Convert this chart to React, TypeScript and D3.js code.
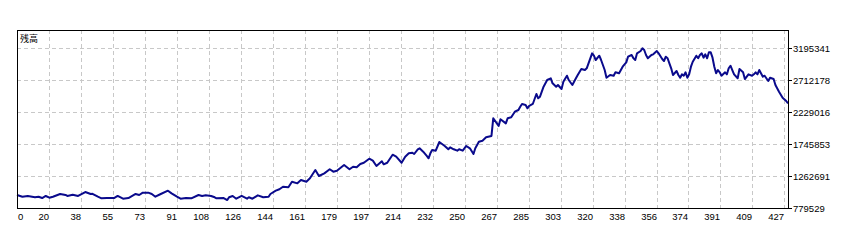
import React from "react";
import * as d3 from "d3";

// ---- data ----
const trade: number[] = [0,3,6,10,12,14,16,18,20,24,27,28,31,34,38,41,42,45,47,50,54,56,59,62,66,68,70,73,75,77,80,84,86,89,91,94,97,101,103,105,108,110,111,115,117,118,120,122,125,128,129,131,134,137,140,141,144,146,148,151,153,156,158,161,163,166,168,171,174,176,178,182,185,187,189,191,193,196,198,200,203,204,206,209,211,214,216,218,220,221,223,224,226,228,229,230,231,233,235,238,240,241,243,245,246,248,250,252,254,255,257,259,261,264,265,267,268,269,272,273,275,277,279,280,281,283,284,285,287,289,290,291,293,295,297,298,300,301,303,304,306,307,309,311,312,314,316,317,318,320,321,322,324,325,327,328,330,332,333,335,337,339,340,342,343,344,345,347,348,349,350,351,353,354,356,357,359,360,361,362,363,364,365,367,368,369,370,371,372,373,374,375,376,378,379,380,381,382,383,384,385,386,387,388,389,390,391,392,394,395,396,397,398,399,401,402,404,405,407,409,410,411,412,413,415,416,418,419,421,422,424,426,428,429];

// balance in thousands
const balanceK: number[] = [976,950,961,941,950,930,961,935,950,991,976,961,980,961,1021,991,993,950,926,930,930,961,920,930,991,976,1011,1011,991,950,991,1041,1001,950,920,930,926,976,961,971,961,941,926,930,900,941,961,920,961,920,941,920,971,941,950,991,1041,1062,1101,1092,1177,1152,1202,1177,1228,1353,1263,1303,1364,1328,1343,1429,1364,1403,1394,1444,1463,1524,1494,1414,1485,1439,1463,1584,1554,1463,1554,1605,1614,1595,1666,1681,1630,1565,1530,1605,1655,1645,1776,1716,1666,1696,1666,1645,1666,1645,1716,1681,1595,1681,1781,1796,1847,1867,2134,2058,2018,2119,2058,2134,2149,2234,2259,2309,2350,2335,2285,2320,2350,2501,2436,2460,2611,2712,2738,2662,2611,2637,2576,2686,2777,2712,2637,2738,2788,2878,2863,2889,2964,3115,3079,3014,3079,3014,2863,2747,2788,2777,2828,2813,2913,2979,3064,3090,3040,3014,3115,3150,3191,3165,3090,3040,3090,3100,3150,3115,3029,2999,3064,3040,2964,2889,2788,2848,2788,2747,2798,2777,2828,2747,2798,2913,2988,3079,3040,3090,3115,3049,3100,3040,3130,3130,3049,2913,2813,2863,2828,2777,2828,2798,2889,2928,2863,2798,2738,2878,2828,2727,2798,2777,2798,2828,2798,2863,2762,2777,2697,2747,2727,2637,2536,2445,2395,2360];

const xTickLabels: string[] = ["0","20","38","55","73","91","108","126","144","161","179","197","214","232","250","267","285","303","320","338","356","374","391","409","427"];
const yTickValues: number[] = [779529, 1262691, 1745853, 2229016, 2712178, 3195341];
const yTitle = "残高";

// ---- layout ----
const W = 852, H = 240;
const L = 17, T = 30, R = 788, B = 208;

export default function App() {
  const lastTrade = 429;
  const x = d3.scaleLinear().domain([0, lastTrade]).range([L, R]);
  const yStep = yTickValues[1] - yTickValues[0];
  const yMin = yTickValues[0];
  const yMax = yTickValues[0] + yStep * ((B - T) / 32);
  const y = d3.scaleLinear().domain([yMin, yMax]).range([B, T]);

  const pts: [number, number][] = trade.map((t, i) => [t, balanceK[i] * 1000]);
  const line = d3.line<[number, number]>().x(d => x(d[0])).y(d => y(d[1]));

  const tickStep = +xTickLabels[xTickLabels.length - 1] / (xTickLabels.length - 1);
  const xTickPos = xTickLabels.map((_, k) => Math.round(x(k * tickStep)));
  const yTickPos = yTickValues.map(v => Math.round(y(v)));

  const font = "'Liberation Sans', Arial, sans-serif";

  return (
    <svg width={W} height={H} style={{ position: "absolute", left: 0, top: 0, display: "block", background: "#fff" }}>
      <rect x={0} y={0} width={W} height={H} fill="#fff" />
      {/* grid */}
      <g stroke="#c8c8c8" strokeWidth={1} strokeDasharray="4 3" shapeRendering="crispEdges">
        {xTickPos.slice(1).map((px, i) => (
          <line key={"gx" + i} x1={px + 0.5} x2={px + 0.5} y1={T} y2={B} />
        ))}
        {yTickPos.slice(1).map((py, i) => (
          <line key={"gy" + i} x1={L} x2={R} y1={py + 0.5} y2={py + 0.5} />
        ))}
      </g>
      {/* balance line */}
      <path d={line(pts) || ""} fill="none" stroke="#0a0a8c" strokeWidth={2} strokeLinejoin="round" />
      {/* frame */}
      <rect x={L + 0.5} y={T + 0.5} width={R - L} height={B - T} fill="none" stroke="#000" strokeWidth={1} shapeRendering="crispEdges" />
      {/* right ticks */}
      <g stroke="#000" shapeRendering="crispEdges">
        {yTickPos.map((py, i) => (
          <line key={"ty" + i} x1={R} x2={R + 4} y1={py + 0.5} y2={py + 0.5} />
        ))}
      </g>
      {/* y labels */}
      <g fontFamily={font} fontSize={9.5} fill="#000">
        {yTickValues.map((v, i) => (
          <text key={"ly" + i} x={R + 5} y={yTickPos[i] + 4}>{String(v)}</text>
        ))}
      </g>
      {/* x labels */}
      <g fontFamily={font} fontSize={9.5} fill="#000">
        {xTickLabels.map((s, k) => (
          <text key={"lx" + k} x={k === 0 ? L + 1 : xTickPos[k]} y={220} textAnchor={k === 0 ? "start" : "end"}>{s}</text>
        ))}
      </g>
      <text x={L + 3} y={T + 12} fontFamily="'Noto Sans CJK JP', sans-serif" fontSize={9} fill="#000">{yTitle}</text>
    </svg>
  );
}
